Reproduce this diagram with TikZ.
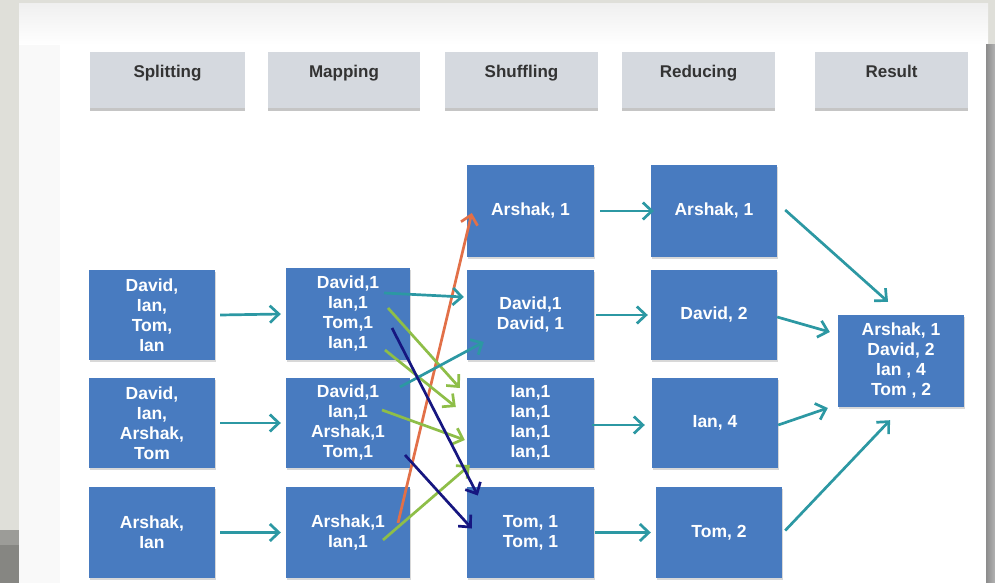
\documentclass[tikz,border=0pt]{standalone}
\usepackage{fontspec}
\setmainfont{Liberation Sans}
\usetikzlibrary{arrows.meta,shadows}
\definecolor{slidegray}{RGB}{223,223,217}
\definecolor{panelwhite}{RGB}{249,249,249}
\definecolor{headfill}{RGB}{213,217,223}
\definecolor{boxblue}{RGB}{72,123,192}
\definecolor{arrteal}{RGB}{44,152,163}
\definecolor{arrgreen}{RGB}{142,190,72}
\definecolor{arrnavy}{RGB}{22,22,128}
\definecolor{arrorange}{RGB}{226,112,72}
\tikzset{
  headbox/.style={draw=none, fill=headfill, minimum width=153pt, inner sep=0pt,
    text height=26pt, text depth=30pt, font=\bfseries\fontsize{17}{20}\selectfont,
    text=black!80, drop shadow={shadow xshift=0pt, shadow yshift=-3pt, opacity=0.45}},
  blk/.style={draw=none, fill=boxblue, minimum width=126pt, minimum height=90pt,
    inner sep=2pt, align=center, text=white, font=\bfseries\fontsize{17.5}{20}\selectfont,
    drop shadow={shadow xshift=1pt, shadow yshift=-2pt, opacity=0.3}},
  flow/.style={line width=2.7pt, -{Straight Barb[length=9pt,width=17pt,line width=2.7pt]}},
  tl/.style={flow, draw=arrteal},
  gr/.style={flow, draw=arrgreen},
  nv/.style={flow, draw=arrnavy},
  og/.style={flow, draw=arrorange}
}
\begin{document}
\begin{tikzpicture}[x=1pt,y=-1pt]
\useasboundingbox (0,0) rectangle (995,583);
% slide background and white panel
\fill[slidegray] (0,0) rectangle (995,583);
\fill[panelwhite] (19,4) rectangle (988,583);
\shade[top color=black!6, bottom color=white] (19,4) rectangle (988,45);
\fill[white] (60,45) rectangle (986,583);
\shade[left color=black!45, right color=black!30] (986,45) rectangle (995,583);
\fill[black!30!slidegray] (0,530) rectangle (19,545);
\fill[black!40!slidegray] (0,545) rectangle (19,583);

% stage headers
\node[headbox, minimum width=155pt] (hsplit) at (167.5,80) {Splitting};
\node[headbox, minimum width=152pt] (hmap) at (344,80) {Mapping};
\node[headbox] (hshuf) at (521.5,80) {Shuffling};
\node[headbox] (hred) at (698.5,80) {Reducing};
\node[headbox] (hres) at (891.5,80) {Result};

% splitting
\node[blk] (s1) at (152,315) {David,\\Ian,\\Tom,\\Ian};
\node[blk] (s2) at (152,423) {David,\\Ian,\\Arshak,\\Tom};
\node[blk, minimum height=91pt] (s3) at (152,532.5) {Arshak,\\Ian};

% mapping
\node[blk, minimum width=124pt, minimum height=92pt] (m1) at (348,314) {David,1\\Ian,1\\Tom,1\\Ian,1};
\node[blk, minimum width=124pt] (m2) at (348,423) {David,1\\Ian,1\\Arshak,1\\Tom,1};
\node[blk, minimum width=124pt, minimum height=91pt] (m3) at (348,532.5) {Arshak,1\\Ian,1};

% shuffling
\node[blk, minimum width=127pt, minimum height=92pt] (sh1) at (530.5,211) {Arshak, 1};
\node[blk, minimum width=127pt] (sh2) at (530.5,315) {David,1\\David, 1};
\node[blk, minimum width=127pt] (sh3) at (530.5,423) {Ian,1\\Ian,1\\Ian,1\\Ian,1};
\node[blk, minimum width=127pt, minimum height=91pt] (sh4) at (530.5,532.5) {Tom, 1\\Tom, 1};

% reducing
\node[blk, minimum height=92pt] (r1) at (714,211) {Arshak, 1};
\node[blk] (r2) at (714,315) {David, 2};
\node[blk] (r3) at (715,423) {Ian, 4};
\node[blk, minimum height=91pt] (r4) at (719,532.5) {Tom, 2};

% result
\node[blk, minimum height=92pt] (res) at (901,361) {Arshak, 1\\David, 2\\Ian , 4\\Tom , 2};

% key/value start points inside the mapping boxes
\coordinate (m1david) at (384,293);
\coordinate (m1ian) at (388,308);
\coordinate (m1tom) at (392,328);
\coordinate (m1ianb) at (385,350);
\coordinate (m2david) at (400,387);
\coordinate (m2ian) at (382,410);
\coordinate (m2tom) at (405,455);
\coordinate (m3arshak) at (398,523);
\coordinate (m3ian) at (383,540);

% splitting -> mapping
\draw[tl] ([xshift=5pt]s1.east) -- ([xshift=-5pt]m1.west);
\draw[tl] ([xshift=5pt]s2.east) -- ([xshift=-5pt]m2.west);
\draw[tl] ([xshift=5pt]s3.east) -- ([xshift=-5pt]m3.west);

% mapping -> shuffling
\draw[og] (m3arshak) -- ([xshift=5pt,yshift=-2pt]sh1.west);
\draw[gr] (m1ian) -- ([xshift=-7pt,yshift=35pt]sh3.west);
\draw[gr] (m1ianb) -- ([xshift=-11pt,yshift=16pt]sh3.west);
\draw[gr] (m2ian) -- ([xshift=-2pt,yshift=-17pt]sh3.west);
\draw[gr] (m3ian) -- ([xshift=3pt,yshift=-42pt]sh3.west);
\draw[tl] (m1david) -- ([xshift=-3pt,yshift=18pt]sh2.west);
\draw[tl] (m2david) -- ([xshift=17pt,yshift=-27pt]sh2.west);
\draw[nv] (m1tom) -- ([xshift=11pt,yshift=37pt]sh4.west);
\draw[nv] (m2tom) -- ([xshift=5pt,yshift=4pt]sh4.west);

% shuffling -> reducing
\draw[tl] ([xshift=6pt]sh1.east) -- ([xshift=3pt]r1.west);
\draw[tl] ([xshift=2pt]sh2.east) -- ([xshift=-3pt]r2.west);
\draw[tl] ([xshift=-2pt,yshift=-2pt]sh3.east) -- ([xshift=-7pt,yshift=-2pt]r3.west);
\draw[tl] ([xshift=1pt]sh4.east) -- ([xshift=-5pt]r4.west);

% reducing -> result
\draw[tl] ([xshift=8pt,yshift=1pt]r1.east) -- ([xshift=-13pt,yshift=13pt]res.north);
\draw[tl] ([xshift=0pt,yshift=-2pt]r2.east) -- ([xshift=-8pt,yshift=29pt]res.west);
\draw[tl] ([xshift=0pt,yshift=-2pt]r3.east) -- ([xshift=-10pt,yshift=-47pt]res.west);
\draw[tl] ([xshift=3pt,yshift=2pt]r4.east) -- ([xshift=-11pt,yshift=-13pt]res.south);
\end{tikzpicture}
\end{document}
